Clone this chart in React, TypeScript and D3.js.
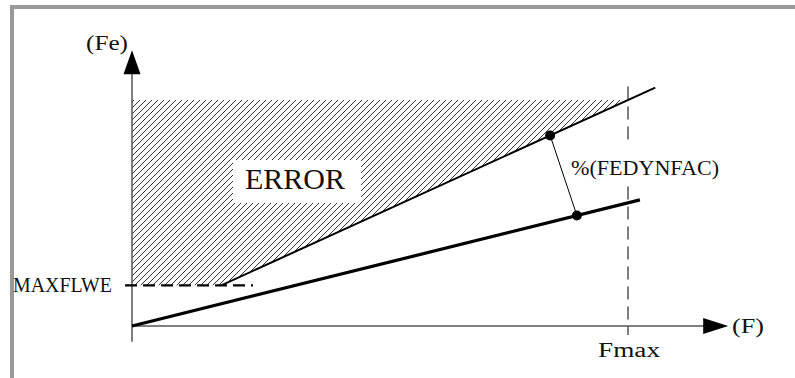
import React from "react";
import * as d3 from "d3";

// Conceptual data (F on x, Fe on y); Fmax = 100, hatch top = 100
const fmax = 100;
const maxflwe = 18;
const errorTop = 100;
const lowerLine: [number, number][] = [[0, 0], [102.4, 55.8]];
const upperLine: [number, number][] = [[18, 18], [105.5, 105.5]];
const upperDot: [number, number] = [84.3, 84.3];
const lowerDot: [number, number] = [89.7, 48.9];
const maxflweDash: [number, number] = [-1.4, 24.4];
const labels = { yAxis: "(Fe)", xAxis: "(F)", error: "ERROR", factor: "%(FEDYNFAC)", fmax: "Fmax", maxflwe: "MAXFLWE" };

const W = 795, H = 378;
const x = d3.scaleLinear().domain([0, 100]).range([132, 628]);
const y = d3.scaleLinear().domain([0, 100]).range([326, 100]);
const font = "'Liberation Serif', 'DejaVu Serif', serif";

export default function App() {
  const line = d3.line<[number, number]>().x(d => x(d[0])).y(d => y(d[1]));
  const slope = (upperLine[1][1] - upperLine[0][1]) / (upperLine[1][0] - upperLine[0][0]);
  const xTop = upperLine[0][0] + (errorTop - upperLine[0][1]) / slope;
  const hatch: [number, number][] = [[0, errorTop], [xTop, errorTop], [upperLine[0][0], maxflwe], [0, maxflwe]];
  const x0 = x(0), yAxisTop = y(122), xAxisEnd = x(120.2);
  return (
    <svg width={W} height={H} style={{ position: "absolute", left: 0, top: 0, background: "#fff" }}>
      <defs>
        <pattern id="hatch" patternUnits="userSpaceOnUse" width={6} height={6}>
          <path d="M-1,1 L1,-1 M0,6 L6,0 M5,7 L7,5" stroke="#000" strokeWidth={0.8} />
        </pattern>
      </defs>
      {/* frame */}
      <path d={`M12,${H} L12,7 L${W},7`} fill="none" stroke="#999" strokeWidth={4} />
      {/* hatch area */}
      <path d={line(hatch) + "Z"} fill="url(#hatch)" stroke="none" />
      {/* ERROR label */}
      <rect x={233} y={160} width={128} height={43} fill="#fff" />
      <text x={245} y={189} fontFamily={font} fontSize={30} textLength={100} lengthAdjust="spacingAndGlyphs" fill="#111">{labels.error}</text>
      {/* Fmax vertical dashed */}
      <line x1={x(fmax)} x2={x(fmax)} y1={y(106)} y2={y(-4)} stroke="#808080" strokeWidth={2} strokeDasharray="13,7" />
      {/* factor label */}
      <rect x={566} y={140} width={160} height={42} fill="#fff" />
      <text x={571} y={175} fontFamily={font} fontSize={21} textLength={148} lengthAdjust="spacingAndGlyphs" fill="#111">{labels.factor}</text>
      {/* axes */}
      <line x1={x0} x2={x0} y1={y(-7)} y2={yAxisTop + 20} stroke="#555" strokeWidth={1.5} />
      <path d={`M${x0},${yAxisTop} L${x0 - 8.5},${yAxisTop + 24} L${x0 + 8.5},${yAxisTop + 24} Z`} fill="#000" />
      <line x1={x0} x2={xAxisEnd - 20} y1={y(0)} y2={y(0)} stroke="#000" strokeWidth={1} />
      <path d={`M${xAxisEnd},${y(0)} L${xAxisEnd - 25},${y(0) - 8} L${xAxisEnd - 25},${y(0) + 8} Z`} fill="#000" />
      {/* MAXFLWE dashed */}
      <line x1={x(maxflweDash[0])} x2={x(maxflweDash[1])} y1={y(maxflwe)} y2={y(maxflwe)} stroke="#000" strokeWidth={2.2} strokeDasharray="12,6" />
      {/* lines */}
      <path d={line(upperLine)!} fill="none" stroke="#000" strokeWidth={2} />
      <path d={line(lowerLine)!} fill="none" stroke="#000" strokeWidth={3.2} />
      <line x1={x(upperDot[0])} y1={y(upperDot[1])} x2={x(lowerDot[0])} y2={y(lowerDot[1])} stroke="#000" strokeWidth={1} />
      <circle cx={x(upperDot[0])} cy={y(upperDot[1])} r={5} fill="#000" />
      <circle cx={x(lowerDot[0])} cy={y(lowerDot[1])} r={5} fill="#000" />
      {/* labels */}
      <text x={86} y={50} fontFamily={font} fontSize={20} textLength={42} lengthAdjust="spacingAndGlyphs" fill="#111">{labels.yAxis}</text>
      <text x={732} y={333} fontFamily={font} fontSize={20} textLength={32} lengthAdjust="spacingAndGlyphs" fill="#111">{labels.xAxis}</text>
      <text x={13} y={292} fontFamily={font} fontSize={21} textLength={99} lengthAdjust="spacingAndGlyphs" fill="#111">{labels.maxflwe}</text>
      <text x={598} y={357} fontFamily={font} fontSize={20} textLength={62} lengthAdjust="spacingAndGlyphs" fill="#111">{labels.fmax}</text>
    </svg>
  );
}
